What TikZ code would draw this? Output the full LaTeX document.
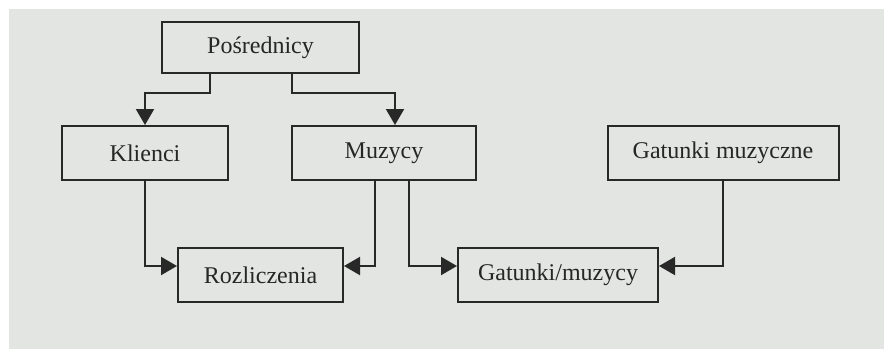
\documentclass[tikz,border=0pt]{standalone}
\usepackage{fontspec}
\setmainfont{Liberation Serif}
\usepackage{tikz}
\usetikzlibrary{arrows.meta}
\definecolor{cBg}{RGB}{227,229,226}
\definecolor{cLine}{RGB}{40,40,40}

\begin{document}
\begin{tikzpicture}[x=1pt,y=-1pt]
  \tikzset{
    tbl/.style={draw=cLine, line width=2pt, fill=cBg, text=black!85,
      font=\fontsize{24}{28}\selectfont, inner sep=0pt, minimum height=54pt},
    conn/.style={draw=cLine, line width=2pt,
      -{Triangle[length=16pt,width=18pt]}},
  }
  \useasboundingbox (0,0) rectangle (884,349);
  \fill[cBg] (9,9) rectangle (884,349);
  % tables
  \node[tbl, minimum width=197pt, minimum height=51pt] (posr) at (260.5,47.5) {Pośrednicy};
  \node[tbl, minimum width=166pt] (klienci) at (145,153) {Klienci};
  \node[tbl, minimum width=184pt] (muzycy) at (384,153) {Muzycy};
  \node[tbl, minimum width=231pt] (gatunki) at (723,153) {Gatunki muzyczne};
  \node[tbl, minimum width=165pt] (rozl) at (260.5,275) {Rozliczenia};
  \node[tbl, minimum width=200pt] (gatmuz) at (558,275) {Gatunki/muzycy};
  % relations
  \draw[conn] ([xshift=-50.5pt]posr.south) -- ++(0,19) -| (klienci.north);
  \draw[conn] ([xshift=31.5pt]posr.south) -- ++(0,19) -| ([xshift=11pt]muzycy.north);
  \draw[conn] (klienci.south) |- ([yshift=9pt]rozl.west);
  \draw[conn] ([xshift=-9pt]muzycy.south) |- ([yshift=9pt]rozl.east);
  \draw[conn] ([xshift=25pt]muzycy.south) |- ([yshift=9pt]gatmuz.west);
  \draw[conn] (gatunki.south) |- ([yshift=9pt]gatmuz.east);
\end{tikzpicture}
\end{document}
